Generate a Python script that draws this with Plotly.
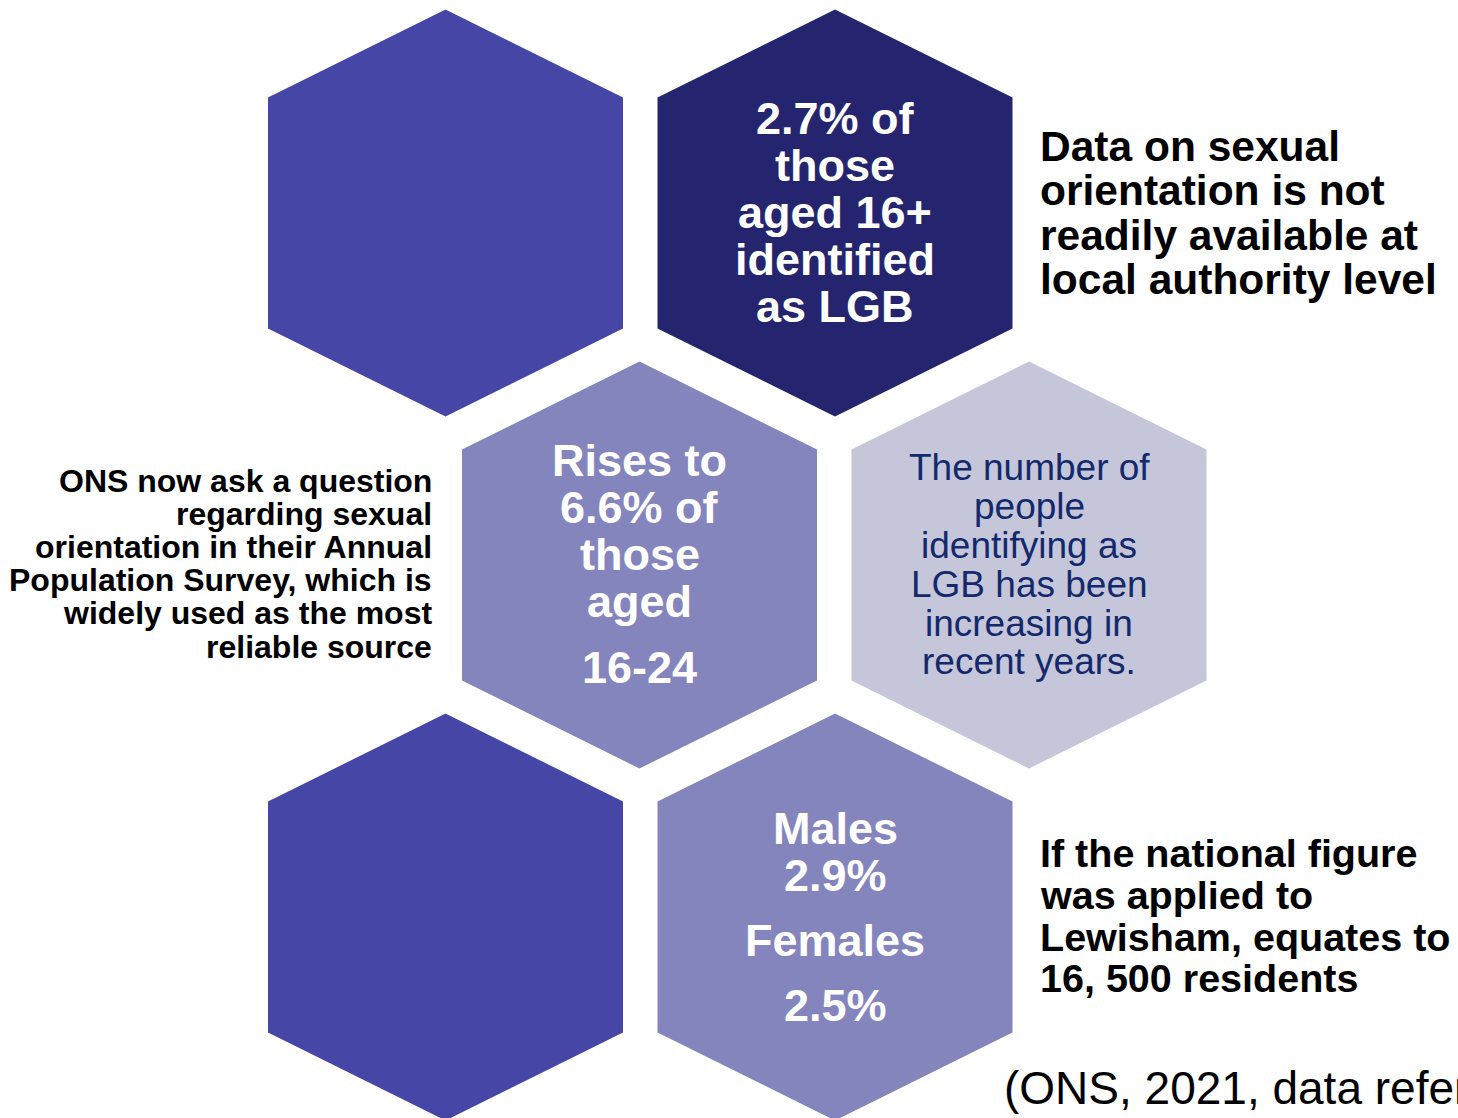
import plotly.graph_objects as go

# --- content -------------------------------------------------------------
hex_names = ["blank_top", "national", "young", "trend", "blank_bottom", "sex"]
hex_colors = ["#4646A6", "#25256F", "#8585BE", "#C5C6DA", "#4646A6", "#8585BE"]

national_lines = ["2.7% of", "those", "aged 16+", "identified", "as LGB"]
young_lines = ["Rises to", "6.6% of", "those", "aged", "16-24"]
sex_lines = ["Males", "2.9%", "Females", "2.5%"]
trend_lines = ["The number of", "people", "identifying as", "LGB has been",
               "increasing in", "recent years."]

ons_note = ["ONS now ask a question", "regarding sexual",
            "orientation in their Annual", "Population Survey, which is",
            "widely used as the most", "reliable source"]
local_note = ["Data on sexual", "orientation is not", "readily available at",
              "local authority level"]
lewisham_note = ["If the national figure", "was applied to",
                 "Lewisham, equates to", "16, 500 residents"]
citation = "(ONS, 2021, data refers to 2019)"

# --- layout geometry ------------------------------------------------------
W, H = 1458, 1118
HALF_W, TIP, SIDE = 177.5, 203.5, 115.5
centres = {
    "blank_top": (445.5, 213), "national": (835, 213),
    "young": (639.5, 565), "trend": (1029, 565),
    "blank_bottom": (445.5, 917), "sex": (835, 917),
}

FONT = "Liberation Sans, Arial, sans-serif"

fig = go.Figure()

for name, color in zip(hex_names, hex_colors):
    cx, cy = centres[name]
    xs = [cx, cx + HALF_W, cx + HALF_W, cx, cx - HALF_W, cx - HALF_W, cx]
    ys = [cy - TIP, cy - SIDE, cy + SIDE, cy + TIP, cy + SIDE, cy - SIDE, cy - TIP]
    fig.add_trace(go.Scatter(x=xs, y=ys, fill="toself", fillcolor=color,
                             mode="lines", line=dict(width=0),
                             hoverinfo="skip", showlegend=False))


def add_lines(lines, x, ys, size, color, bold, anchor="center"):
    for text, y in zip(lines, ys):
        fig.add_annotation(
            x=x, y=y, xref="x", yref="y", text=f"<b>{text}</b>" if bold else text,
            showarrow=False, xanchor=anchor, yanchor="middle",
            font=dict(family=FONT, size=size, color=color),
        )


add_lines(national_lines, 835, [118, 165, 212, 259, 306], 45, "white", True)
add_lines(young_lines, 639.5, [460, 507, 554, 601, 667], 45, "white", True)
add_lines(sex_lines, 835, [828, 875, 940, 1005], 45, "white", True)
add_lines(trend_lines, 1029, [467, 506, 545, 584, 623, 661], 37, "#13296B", False)
add_lines(ons_note, 434, [481, 514, 547, 580, 613, 647], 32, "black", True, "right")
add_lines(local_note, 1038, [146, 190, 235, 279], 42.5, "black", True, "left")
add_lines(lewisham_note, 1038, [853, 895, 937, 978], 39.5, "black", True, "left")
add_lines([citation], 1002, [1088], 46, "black", False, "left")

fig.update_layout(
    width=W, height=H,
    margin=dict(l=0, r=0, t=0, b=0),
    paper_bgcolor="white", plot_bgcolor="white",
    xaxis=dict(range=[0, W], visible=False, fixedrange=True),
    yaxis=dict(range=[H, 0], visible=False, fixedrange=True),
)

# drop the browser's default body margin so the canvas sits at the page corner
fig.write_html("out.html", config={"displayModeBar": False},
               post_script="document.body.style.margin='0';")
